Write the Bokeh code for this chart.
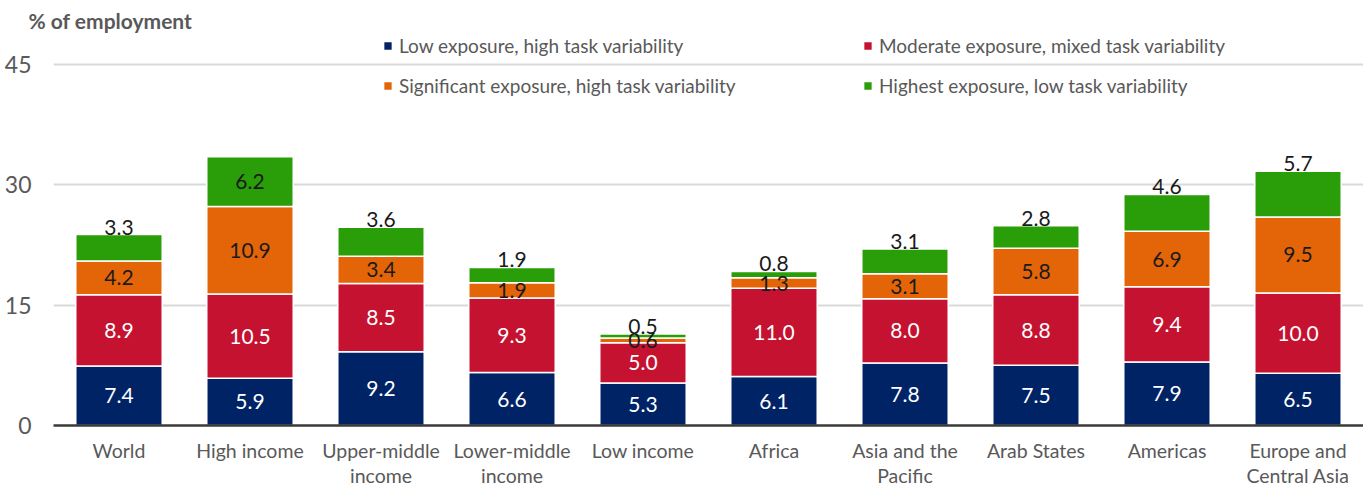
from bokeh.plotting import figure
from bokeh.models import ColumnDataSource, FixedTicker, Legend, LegendItem, Title, Range1d
from bokeh.core.properties import value
from bokeh.embed import file_html
from bokeh.resources import INLINE

categories = ["World", "High income", "Upper-middle\nincome", "Lower-middle\nincome",
              "Low income", "Africa", "Asia and the\nPacific", "Arab States",
              "Americas", "Europe and\nCentral Asia"]
low_exposure = [7.4, 5.9, 9.2, 6.6, 5.3, 6.1, 7.8, 7.5, 7.9, 6.5]
moderate_exposure = [8.9, 10.5, 8.5, 9.3, 5.0, 11.0, 8.0, 8.8, 9.4, 10.0]
significant_exposure = [4.2, 10.9, 3.4, 1.9, 0.6, 1.3, 3.1, 5.8, 6.9, 9.5]
highest_exposure = [3.3, 6.2, 3.6, 1.9, 0.5, 0.8, 3.1, 2.8, 4.6, 5.7]
series_names = ["Low exposure, high task variability",
                "Moderate exposure, mixed task variability",
                "Significant exposure, high task variability",
                "Highest exposure, low task variability"]
y_ticks = [0, 15, 30, 45]

colors = ["#002366", "#C41230", "#E36508", "#2A9E08"]
label_colors = ["white", "white", "#1a1a1a", "#1a1a1a"]
FONT = "Lato"
GREY = "#595959"

# layout (figure pixels)
W = 1363
H = 490
FT = 32           # frame top inside figure (below title)
FB = 426          # frame bottom inside figure
TOP45 = 64        # where 45 should sit inside figure
px_per_unit = (FB - TOP45) / 45.0
y_end = (FB - FT) / px_per_unit

series = [low_exposure, moderate_exposure, significant_exposure, highest_exposure]
keys = ["s0", "s1", "s2", "s3"]
xs = list(range(len(categories)))

p = figure(width=W, height=H, output_backend="svg", toolbar_location=None,
           x_range=Range1d(-0.5, len(categories) - 0.5), y_range=Range1d(0, y_end),
           min_border_left=53, min_border_right=0, min_border_top=FT, min_border_bottom=H - FB)
p.outline_line_color = None
p.background_fill_color = "white"
p.border_fill_color = "white"

p.title = Title(text="% of employment", align="left", offset=-25, standoff=0,
                text_font=FONT, text_font_style="bold", text_font_size="21px",
                text_color=GREY)

data = dict(x=xs)
for k, s in zip(keys, series):
    data[k] = s
source = ColumnDataSource(data)
renderers = p.vbar_stack(keys, x="x", width=0.66, fill_color=colors, line_color="white",
                         line_width=1.5, source=source)

# value labels
lx, ly, lt, lc = [], [], [], []
tx, ty, tt = [], [], []
bottoms = [0.0] * len(categories)
for si, s in enumerate(series):
    for ci, v in enumerate(s):
        top = bottoms[ci] + v
        if si == len(series) - 1 and top <= 33:
            tx.append(ci); ty.append(top); tt.append(f"{v:.1f}")
        else:
            lx.append(ci); ly.append(bottoms[ci] + v / 2); lt.append(f"{v:.1f}")
            lc.append(label_colors[si])
        bottoms[ci] = top

p.text(x=lx, y=ly, text=lt, text_color=lc, text_align="center", text_baseline="middle",
       text_font=value(FONT), text_font_size="21px")
p.text(x=tx, y=ty, text=tt, text_color="#1a1a1a", text_align="center",
       text_baseline="bottom", text_font=value(FONT), text_font_size="21px")

# axes & grid
p.xgrid.grid_line_color = None
p.ygrid.ticker = FixedTicker(ticks=y_ticks[1:])
p.ygrid.grid_line_color = "#d9d9d9"
p.ygrid.grid_line_width = 2
p.yaxis.ticker = FixedTicker(ticks=y_ticks)
p.yaxis.axis_line_color = None
p.yaxis.major_tick_line_color = None
p.yaxis.minor_tick_line_color = None
p.yaxis.major_tick_out = 0
p.yaxis.major_tick_in = 0
p.yaxis.axis_label_standoff = 0
p.yaxis.axis_label_text_font_size = "1px"
p.yaxis.major_label_standoff = 22
p.yaxis.major_label_text_font = FONT
p.yaxis.major_label_text_font_size = "23px"
p.yaxis.major_label_text_color = GREY

p.xaxis.ticker = FixedTicker(ticks=xs)
p.xaxis.major_label_overrides = {i: c for i, c in enumerate(categories)}
p.xaxis.axis_line_color = "#3a3a3a"
p.xaxis.axis_line_width = 2.5
p.xaxis.major_tick_line_color = None
p.xaxis.minor_tick_line_color = None
p.xaxis.major_tick_out = 0
p.xaxis.major_tick_in = 0
p.xaxis.axis_label_standoff = 0
p.xaxis.axis_label_text_font_size = "1px"
p.xaxis.major_label_standoff = 13
p.xaxis.major_label_text_font = FONT
p.xaxis.major_label_text_font_size = "19.5px"
p.xaxis.major_label_text_color = GREY
p.xaxis.major_label_text_line_height = 1.12

# legend
items = [LegendItem(label=n, renderers=[r]) for n, r in zip(series_names, renderers)]
legend = Legend(items=items, ncols=2, orientation="horizontal", location=(329, FB - 98),
                glyph_width=11, glyph_height=11, label_standoff=6, label_width=446,
                label_height=20, spacing=17, padding=0, margin=0,
                border_line_color=None, background_fill_alpha=0,
                label_text_font=FONT, label_text_font_size="19px", label_text_color=GREY)
p.add_layout(legend)

open("out.html", "w").write(file_html(p, INLINE))
